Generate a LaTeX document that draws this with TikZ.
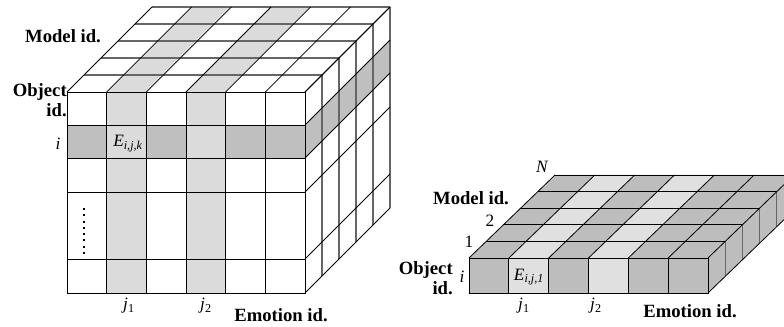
\documentclass[tikz,border=0pt]{standalone}
\usepackage{fontspec}
\setmainfont{Liberation Serif}
\begin{document}
\begin{tikzpicture}[
    x=0.75pt, y=-0.75pt,
    grid/.style={draw=black, line width=0.6pt},
    back/.style={draw=black!60, line width=0.8pt},
    axis/.style={font=\fontsize{14}{15.5}\selectfont\bfseries, inner sep=0pt, align=right},
    idx/.style={font=\fontsize{13}{15}\selectfont, inner sep=0pt},
    lite/.style={fill=black!14},
    dark/.style={fill=black!25},
    slite/.style={fill=black!12},
    sdark/.style={fill=black!26}
]
\useasboundingbox (0,0) rectangle (784,327);
\def\cw{39.67}
\def\sw{39.83}

    % Cube: fills
    \foreach \c in {1,3}
        \fill[lite] ({67+\c*\cw},92) -- ++(\cw,0) -- ++(85,-85) -- ++(-\cw,0) -- cycle;
    \fill[dark] (67,125) rectangle (305,158);
    \foreach \c in {1,3}
        \fill[lite] ({67+\c*\cw},92) rectangle ++(\cw,201);
    \fill[dark] (305,125) -- (305,158) -- (390,73) -- (390,40) -- cycle;

    % Cube: lines
    \draw[grid] (67,92) rectangle (305,293);
    \foreach \c in {1,...,5}
        \draw[grid] ({67+\c*\cw},92) -- ++(0,201);
    \foreach \y in {125,158,192,259}
        \draw[grid] (67,\y) -- (305,\y);
    \foreach \k in {1,...,5} {
        \draw[back] ({67+17*\k},{92-17*\k}) -- ++(238,0);
        \draw[back] ({305+17*\k},{92-17*\k}) -- ++(0,201);
    }
    \foreach \c in {0,...,6}
        \draw[grid] ({67+\c*\cw},92) -- ++(85,-85);
    \foreach \y in {92,125,158,192,259,293}
        \draw[grid] (305,\y) -- ++(85,-85);
    \draw[line width=1.5pt, dash pattern=on 1.5pt off 3.2pt] (84,208) -- (84,256);

    % Cube: labels
    \node[axis] (lmodel) at (63,36) {Model id.};
    \node[axis, anchor=east] (lobject) at (67,100) {Object\\id.};
    \node[idx] (li) at (58,144) {\itshape i};
    \node[idx] (lcell) at (128,144) {{\itshape E}\textsubscript{\itshape i,j,k}};
    \node[idx] (lj1) at (129,306) {{\itshape j}\textsubscript{1}};
    \node[idx] (lj2) at (206,306) {{\itshape j}\textsubscript{2}};
    \node[axis] (lemotion) at (281,315) {Emotion id.};

    % Slab: fills
    \fill[sdark] (469,258) -- (708,258) -- (794,175) -- (555,175) -- cycle;
    \fill[sdark] (469,258) rectangle (708,293);
    \fill[sdark] (708,258) -- (708,293) -- (794,210) -- (794,175) -- cycle;
    \foreach \c in {1,3} {
        \fill[slite] ({469+\c*\sw},258) -- ++(\sw,0) -- ++(86,-83) -- ++(-\sw,0) -- cycle;
        \fill[slite] ({469+\c*\sw},258) rectangle ++(\sw,35);
    }

    % Slab: lines
    \draw[grid] (469,258) rectangle (708,293);
    \foreach \c in {1,...,5}
        \draw[grid] ({469+\c*\sw},258) -- ++(0,35);
    \foreach \k in {1,...,5} {
        \draw[grid] ({469+17.2*\k},{258-16.6*\k}) -- ++(239,0);
        \draw[back] ({708+17.2*\k},{258-16.6*\k}) -- ++(0,35);
    }
    \foreach \c in {0,...,6}
        \draw[grid] ({469+\c*\sw},258) -- ++(86,-83);
    \draw[grid] (708,293) -- ++(86,-83);

    % Slab: labels
    \node[idx] (rn) at (542,167) {\itshape N};
    \node[axis] (rmodel) at (471,198) {Model id.};
    \node[idx] (r2) at (490,221) {2};
    \node[idx] (r1) at (469,242) {1};
    \node[axis, anchor=east] (robject) at (453,278) {Object\\id.};
    \node[idx] (ri) at (462,277) {\itshape i};
    \node[idx] (rcell) at (529,277) {{\itshape E}\textsubscript{\itshape i,j,1}};
    \node[idx] (rj1) at (524,306) {{\itshape j}\textsubscript{1}};
    \node[idx] (rj2) at (596,306) {{\itshape j}\textsubscript{2}};
    \node[axis] (remotion) at (690,311) {Emotion id.};
\end{tikzpicture}
\end{document}
